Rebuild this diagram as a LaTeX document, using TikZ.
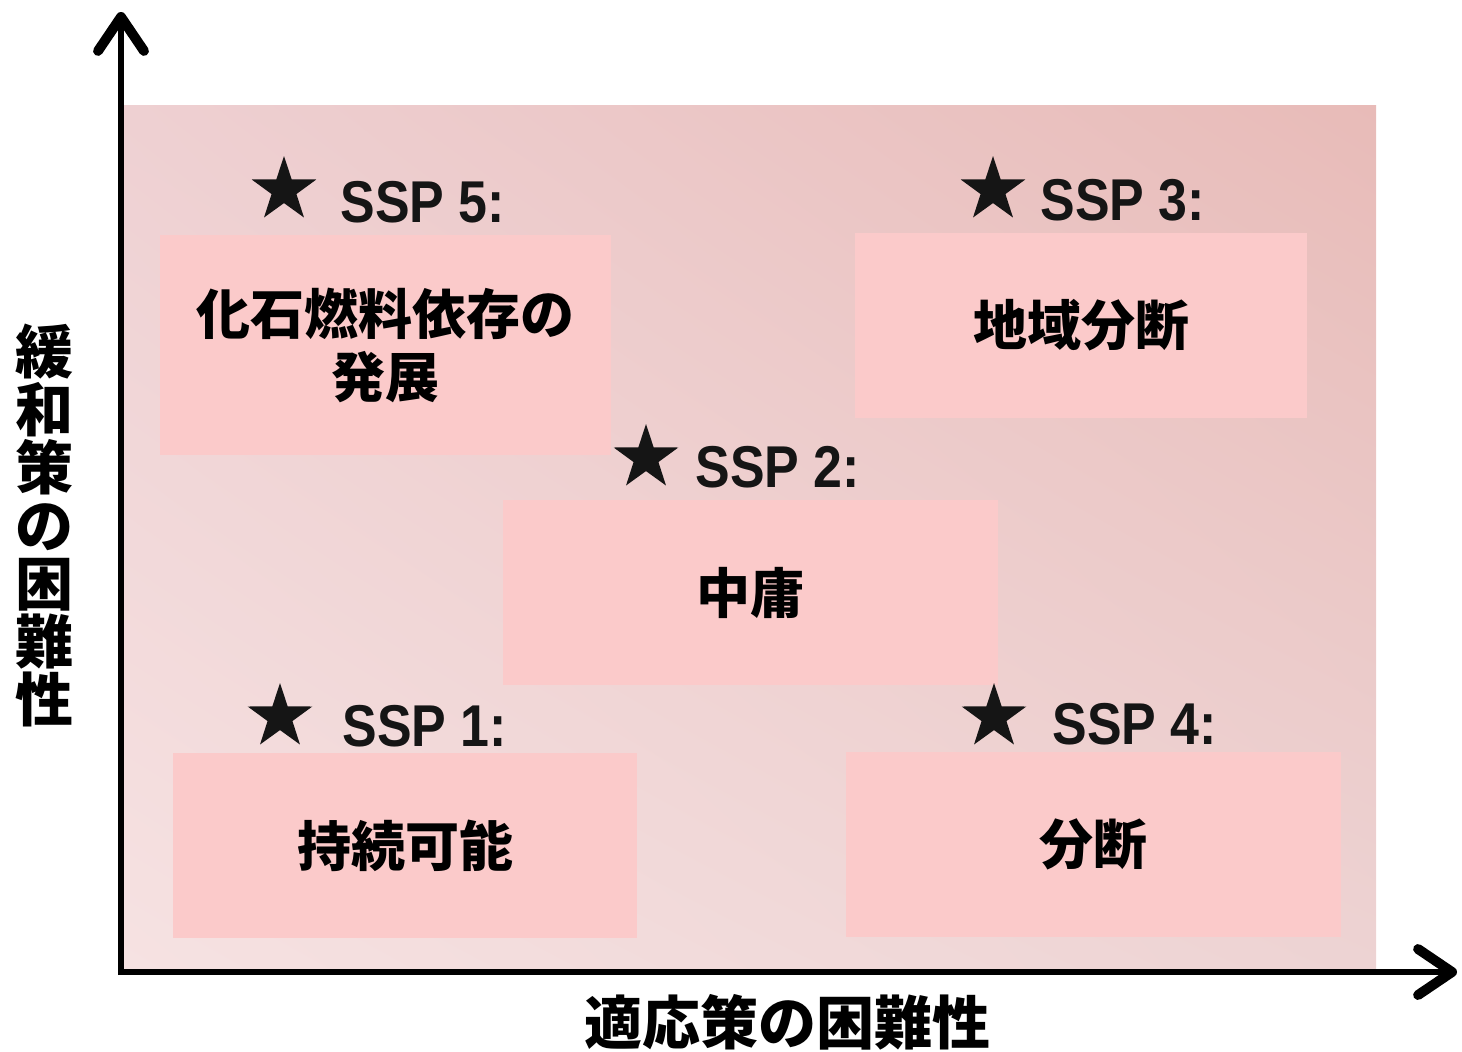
\documentclass[tikz,border=0pt]{standalone}
\usepackage{fontspec}
\newfontfamily\jpfont{Noto Sans CJK JP}
\newfontfamily\sspfont[FakeStretch=0.88]{Liberation Sans}
\usetikzlibrary{arrows.meta,shapes.geometric,shadings}
\definecolor{bgUL}{HTML}{EED0D2}
\definecolor{bgUR}{HTML}{E8BBB8}
\definecolor{bgLL}{HTML}{F6E2E2}
\definecolor{bgLR}{HTML}{EDD3D3}
\definecolor{boxpink}{HTML}{FBCACA}
\definecolor{labelink}{HTML}{151515}
\tikzset{
  scenbox/.style={fill=boxpink,draw=none},
  scentext/.style={font=\jpfont\bfseries\fontsize{27pt}{31.5pt}\selectfont,align=center,inner sep=0pt,text=black},
  sspstar/.style={star,star points=5,star point ratio=2.6,fill=labelink,draw=none,minimum size=34pt,inner sep=0pt},
  ssplabel/.style={font=\sspfont\bfseries\fontsize{29.5pt}{30pt}\selectfont,text=labelink,inner sep=0pt,anchor=base west},
  axis/.style={line width=3.3pt,-{Straight Barb[length=17pt,width=23pt,line width=0pt 1.5,line cap=round,line join=round]}},
  axislabel/.style={font=\jpfont\bfseries\fontsize{29pt}{29pt}\selectfont,inner sep=0pt,text=black}
}
\begin{document}
\begin{tikzpicture}[x=0.5pt,y=-0.5pt]
\useasboundingbox (0,0) rectangle (1462,1051);
% background gradient
\shade[upper left=bgUL,upper right=bgUR,lower left=bgLL,lower right=bgLR] (123,105) rectangle (1376,970);
% scenario boxes
\node[scenbox,minimum width=225.5pt,minimum height=110pt] (b5) at (385.5,345) {};
\node[scenbox,minimum width=226pt,minimum height=92.5pt] (b3) at (1081,325.5) {};
\node[scenbox,minimum width=247.5pt,minimum height=92.5pt] (b2) at (750.5,592.5) {};
\node[scenbox,minimum width=232pt,minimum height=92.5pt] (b1) at (405,845.5) {};
\node[scenbox,minimum width=247.5pt,minimum height=92.5pt] (b4) at (1093.5,844.5) {};
% texts
\node[scentext] (t5) at (b5) {化石燃料依存の\\発展};
\node[scentext] (t3) at (b3) {地域分断};
\node[scentext] (t2) at (b2) {中庸};
\node[scentext] (t1) at (b1) {持続可能};
\node[scentext] (t4) at (b4) {分断};
% stars and SSP labels
\node[sspstar] (s5) at (284,190) {};
\node[ssplabel] (l5) at (340,222) {SSP 5:};
\node[sspstar] (s3) at (993,190) {};
\node[ssplabel] (l3) at (1040,220) {SSP 3:};
\node[sspstar] (s2) at (646,458) {};
\node[ssplabel] (l2) at (695,487) {SSP 2:};
\node[sspstar] (s1) at (280,717) {};
\node[ssplabel] (l1) at (342,746) {SSP 1:};
\node[sspstar] (s4) at (994,717) {};
\node[ssplabel] (l4) at (1052,744) {SSP 4:};
% axes
\coordinate (origin) at (121,975);
\coordinate (ytip) at (121,12);
\coordinate (xstart) at (118,972);
\coordinate (xtip) at (1457,972);
\draw[axis] (origin) -- (ytip);
\draw[axis] (xstart) -- (xtip);
% axis labels
\node[axislabel,align=center] (ylab) at (45,525) {緩\\和\\策\\の\\困\\難\\性};
\node[axislabel] (xlab) at (787,1022) {適応策の困難性};
\end{tikzpicture}
\end{document}
